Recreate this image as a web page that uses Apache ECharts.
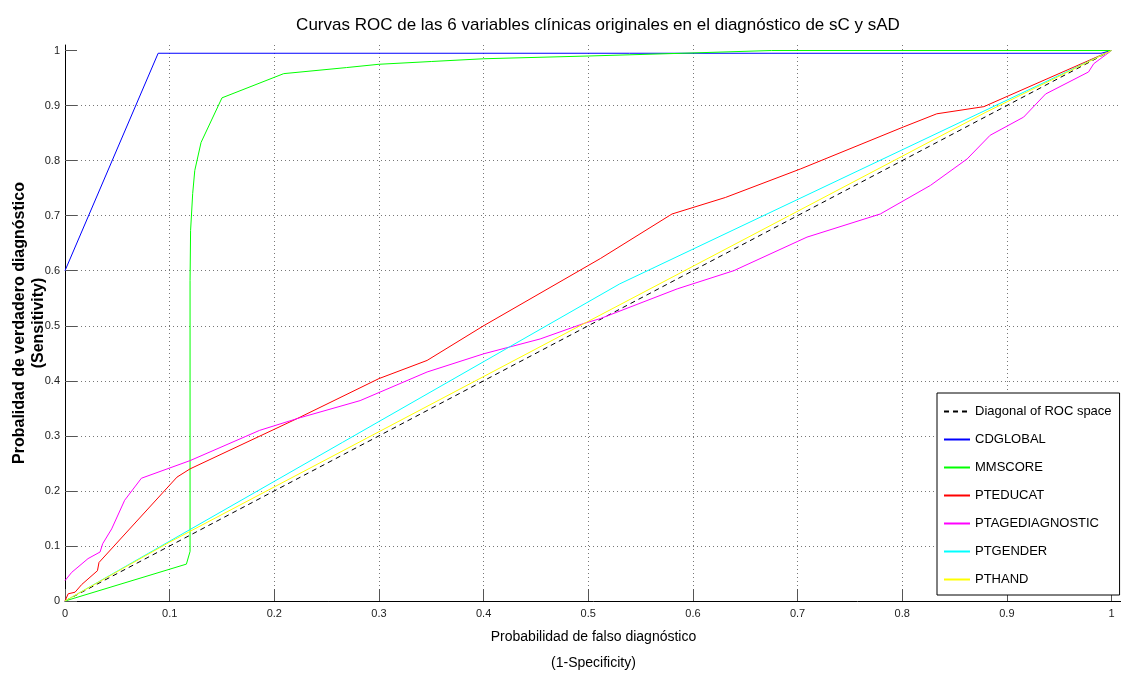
<!DOCTYPE html>
<html>
<head>
<meta charset="utf-8">
<title>Curvas ROC</title>
<script src="https://cdn.jsdelivr.net/npm/echarts@6/dist/echarts.min.js"></script>
<style>
  html, body { margin: 0; padding: 0; background: #fff; }
  #chart { width: 1121px; height: 675px; }
</style>
</head>
<body>
<div id="chart"></div>
<script>
// ticks of both axes
var tickValues = [0, 0.1, 0.2, 0.3, 0.4, 0.5, 0.6, 0.7, 0.8, 0.9, 1];

// curves: [1-specificity, sensitivity]
var diagonal = [[0, 0], [1, 1]];
var cdglobal = [[0, 0.6], [0.089, 0.995], [0.99, 0.995], [1, 1]];
var mmscore = [
  [0, 0], [0.116, 0.067], [0.1195, 0.09], [0.1195, 0.582], [0.12, 0.673],
  [0.122, 0.74], [0.124, 0.782], [0.13, 0.833], [0.15, 0.914], [0.209, 0.958],
  [0.269, 0.969], [0.3, 0.975], [0.35, 0.98], [0.4, 0.985], [0.5, 0.99],
  [0.59, 0.995], [0.675, 1], [1, 1]
];
var pteducat = [
  [0, 0], [0.003, 0.013], [0.0096, 0.016], [0.016, 0.03], [0.031, 0.055],
  [0.0325, 0.07], [0.107, 0.225], [0.1195, 0.24], [0.2247, 0.334], [0.3, 0.404],
  [0.346, 0.437], [0.4, 0.5], [0.5115, 0.622], [0.58, 0.703], [0.631, 0.733],
  [0.703, 0.785], [0.801, 0.861], [0.833, 0.885], [0.878, 0.898], [1, 1]
];
var ptagediagnostic = [
  [0, 0.037], [0.0064, 0.052], [0.022, 0.077], [0.0335, 0.089], [0.036, 0.104],
  [0.0446, 0.131], [0.057, 0.183], [0.073, 0.223], [0.1195, 0.255], [0.186, 0.31],
  [0.2247, 0.333], [0.282, 0.364], [0.346, 0.416], [0.4, 0.449], [0.454, 0.476],
  [0.4955, 0.504], [0.5115, 0.513], [0.585, 0.567], [0.639, 0.6], [0.709, 0.661],
  [0.779, 0.703], [0.827, 0.755], [0.862, 0.803], [0.884, 0.846], [0.916, 0.879],
  [0.937, 0.921], [0.978, 0.961], [0.983, 0.976], [1, 1]
];
var ptgender = [[0, 0], [0.53, 0.576], [1, 1]];
var pthand = [[0, 0], [0.1, 0.107], [0.5, 0.508], [0.88, 0.888], [1, 1]];

var sans = "'Liberation Sans', Arial, sans-serif";

var chart = echarts.init(document.getElementById('chart'));

function roc(name, data, color, dashed) {
  return {
    name: name,
    type: 'line',
    data: data,
    symbol: 'none',
    animation: false,
    lineStyle: { color: color, width: 1, type: dashed ? [5, 4] : 'solid' },
    itemStyle: { color: color }
  };
}

var option = {
  backgroundColor: '#fff',
  animation: false,
  title: {
    text: 'Curvas ROC de las 6 variables clínicas originales en el diagnóstico de sC y sAD',
    left: 593,
    textAlign: 'center',
    top: 12,
    textStyle: { fontFamily: sans, fontSize: 17, fontWeight: 'normal', color: '#000' }
  },
  grid: { left: 65, top: 45, width: 1057, height: 556, containLabel: false, outerBoundsMode: 'none' },
  legend: {
    orient: 'vertical',
    left: 937,
    top: 393,
    backgroundColor: '#fff',
    borderColor: '#000',
    borderWidth: 1,
    borderRadius: 0,
    padding: [12, 8, 9, 6],
    itemWidth: 26,
    itemHeight: 14,
    itemGap: 15,
    itemStyle: { opacity: 0 },
    textStyle: { fontFamily: sans, fontSize: 13, color: '#000' },
    data: ['Diagonal of ROC space', 'CDGLOBAL', 'MMSCORE', 'PTEDUCAT', 'PTAGEDIAGNOSTIC', 'PTGENDER', 'PTHAND']
  },
  xAxis: {
    type: 'value',
    min: 0,
    max: 1.01,
    name: 'Probabilidad de falso diagnóstico\n(1-Specificity)',
    nameLocation: 'middle',
    nameGap: 22,
    nameTextStyle: { fontFamily: sans, fontSize: 14, color: '#000', lineHeight: 26 },
    axisLine: { show: true, onZero: false, lineStyle: { color: '#000', width: 1 } },
    axisTick: { show: true, inside: true, length: 12, customValues: tickValues, lineStyle: { color: '#555' } },
    axisLabel: {
      customValues: tickValues, fontFamily: sans, fontSize: 11, color: '#222', margin: 7,
      formatter: function (v) { return String(v); }
    },
    splitLine: { show: true, showMinLine: false, showMaxLine: false, lineStyle: { color: '#777', type: [1, 3], width: 1 } }
  },
  yAxis: {
    type: 'value',
    min: 0,
    max: 1.01,
    name: 'Probalidad de verdadero diagnóstico\n(Sensitivity)',
    nameLocation: 'middle',
    nameRotate: 90,
    nameGap: 17,
    nameMoveOverlap: false,
    nameTextStyle: { fontFamily: sans, fontSize: 16, fontWeight: 'bold', color: '#000', lineHeight: 19 },
    axisLine: { show: true, onZero: false, lineStyle: { color: '#000', width: 1 } },
    axisTick: { show: true, inside: true, length: 12, customValues: tickValues, lineStyle: { color: '#555' } },
    axisLabel: {
      customValues: tickValues, fontFamily: sans, fontSize: 11, color: '#222', margin: 5,
      formatter: function (v) { return String(v); }
    },
    splitLine: { show: true, showMinLine: false, showMaxLine: false, lineStyle: { color: '#777', type: [1, 3], width: 1 } }
  },
  series: [
    roc('Diagonal of ROC space', diagonal, '#000', true),
    roc('CDGLOBAL', cdglobal, '#0000ff'),
    roc('MMSCORE', mmscore, '#00ff00'),
    roc('PTEDUCAT', pteducat, '#ff0000'),
    roc('PTAGEDIAGNOSTIC', ptagediagnostic, '#ff00ff'),
    roc('PTGENDER', ptgender, '#00ffff'),
    roc('PTHAND', pthand, '#ffff00')
  ]
};

chart.setOption(option);
</script>
</body>
</html>
